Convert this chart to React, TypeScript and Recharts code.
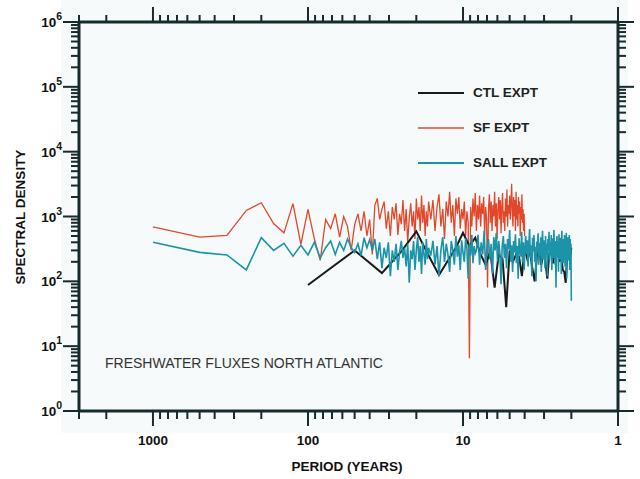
import React from 'react'
import { LineChart, Line, XAxis, YAxis, Legend } from 'recharts'

// Record lengths (years) of the three model runs
const SF_RECORD = 1000
const SALL_RECORD = 1000
const CTL_RECORD = 100

const range = (from: number, to: number, step = 1) => {
  const out: number[] = []
  for (let k = from; k <= to; k += step) out.push(k)
  return out
}

// Harmonic numbers kept for each spectrum (thinned at high frequency)
const SF_HARMONICS = [...range(1, 60), ...range(62, 250, 2)]
const SALL_HARMONICS = [...range(1, 60), ...range(62, 120, 2), ...range(122, 500, 3)]
const CTL_HARMONICS = range(1, 50)

// Spectral density at each harmonic
const SF_DENSITY = [
  690, 480, 510, 1240, 1630, 780, 560, 1580, 370, 1290,
  450, 210, 900, 650, 1100, 480, 1000, 700, 300, 750,
  1100, 600, 1200, 500, 900, 260, 1500, 1900, 900, 1300,
  1700, 650, 1200, 500, 1400, 900, 1600, 520, 1100, 760,
  1800, 600, 1300, 400, 950, 1600, 700, 1200, 450, 1900,
  900, 1400, 600, 2100, 800, 1500, 500, 1200, 700, 1700,
  // harmonics 62..250, every second one
  900, 1800, 600, 1400, 2200, 700, 1300, 450, 1700, 1000,
  2400, 800, 1500, 500, 1900, 1100, 2000, 650, 1300, 900,
  1700, 500, 1200, 800, 6.5, 1400, 700, 1900, 1000, 2300,
  600, 1500, 900, 2100, 700, 1600, 1100, 2000, 500, 1400,
  900, 80, 1300, 2200, 800, 1700, 600, 1500, 1000, 2400,
  700, 1600, 450, 1300, 2000, 900, 1800, 550, 1400, 2300,
  800, 1200, 600, 1900, 1000, 2600, 700, 1500, 1100, 2100,
  900, 1600, 3200, 1200, 700, 2000, 1000, 1800, 600, 2400,
  900, 1500, 700, 2000, 1100, 1700, 500, 1400, 900, 2200,
  800, 1300, 600, 1100, 500,
]

const SALL_DENSITY = [
  400, 280, 255, 150, 470, 300, 385, 245, 360, 255,
  400, 230, 330, 420, 260, 400, 300, 450, 330, 280,
  380, 250, 470, 330, 440, 300, 450, 220, 400, 160,
  330, 230, 400, 120, 300, 200, 380, 150, 280, 420,
  230, 330, 170, 380, 95, 300, 220, 420, 150, 300,
  480, 200, 350, 130, 400, 260, 180, 450, 220, 330,
  // harmonics 62..120, every second one
  250, 420, 180, 350, 120, 300, 480, 200, 380, 260,
  140, 420, 300, 180, 500, 240, 360, 150, 430, 280,
  200, 460, 320, 110, 380, 250, 520, 190, 350, 270,
  // harmonics 122..500, every third one
  300, 520, 180, 400, 260, 600, 150, 350, 450, 220,
  380, 130, 480, 300, 560, 200, 420, 270, 90, 340,
  500, 230, 380, 160, 450, 310, 620, 200, 360, 140,
  420, 280, 530, 190, 350, 110, 460, 300, 240, 580,
  200, 400, 150, 330, 500, 260, 430, 170, 380, 640,
  230, 360, 120, 470, 290, 520, 200, 340, 100, 410,
  280, 550, 180, 390, 250, 480, 140, 360, 600, 220,
  430, 300, 160, 500, 260, 380, 120, 450, 330, 580,
  210, 400, 270, 520, 150, 350, 460, 230, 620, 300,
  180, 420, 80, 360, 500, 250, 400, 140, 530, 300,
  220, 470, 350, 130, 600, 260, 380, 190, 450, 290,
  520, 170, 400, 250, 560, 110, 360, 480, 210, 400,
  300, 520, 150, 450, 250, 380, 50,
]

const CTL_DENSITY = [
  88, 300, 134, 290, 590, 250, 125, 210, 330, 560,
  350, 470, 260, 180, 290, 80, 260, 220, 40, 300,
  200, 260, 240, 120, 330, 220, 300, 160, 100, 250,
  320, 180, 280, 200, 110, 260, 300, 190, 280, 230,
  330, 200, 260, 150, 140, 95, 250, 300, 220, 330,
]

const toSpectrum = (record: number, harmonics: number[], density: number[]) =>
  harmonics.map((k, i) => ({ period: record / k, density: density[i] }))

const sfData = toSpectrum(SF_RECORD, SF_HARMONICS, SF_DENSITY)
const sallData = toSpectrum(SALL_RECORD, SALL_HARMONICS, SALL_DENSITY)
const ctlData = toSpectrum(CTL_RECORD, CTL_HARMONICS, CTL_DENSITY)

// Axis ticks: every integer multiple inside each decade
const MULTIPLES = [1, 2, 3, 4, 5, 6, 7, 8, 9]
const PERIOD_DECADES = [1, 10, 100, 1000]
const DENSITY_DECADES = [1, 10, 100, 1000, 10000, 100000]
const PERIOD_TICKS = PERIOD_DECADES.flatMap((d) => MULTIPLES.map((m) => m * d)).filter((v) => v <= 3000)
const DENSITY_TICKS = [...DENSITY_DECADES.flatMap((d) => MULTIPLES.map((m) => m * d)), 1000000]

const LEGEND_ORDER = ['CTL EXPT', 'SF EXPT', 'SALL EXPT']

const AXIS = '#172a2c'
const FONT = '"Liberation Sans", Arial, Helvetica, sans-serif'
const boldText = { fontFamily: FONT, fontSize: 13.5, fontWeight: 700, fill: '#111' }

const isDecade = (v: number) => Math.abs(Math.log10(v) - Math.round(Math.log10(v))) < 1e-9

const BottomTick = ({ x, y, payload }: any) => {
  const major = isDecade(payload.value)
  return (
    <g>
      <line x1={x} y1={y} x2={x} y2={y + (major ? 15 : 8)} stroke={AXIS} strokeWidth={2} />
      {major && (
        <text x={x} y={y + 34} textAnchor="middle" style={boldText}>
          {payload.value}
        </text>
      )}
    </g>
  )
}

const TopTick = ({ x, y, payload }: any) => {
  const major = isDecade(payload.value)
  return <line x1={x} y1={y} x2={x} y2={y - (major ? 15 : 7)} stroke={AXIS} strokeWidth={2} />
}

const LeftTick = ({ x, y, payload }: any) => {
  const major = isDecade(payload.value)
  return (
    <g>
      <line x1={x} y1={y} x2={x - (major ? 16 : 8)} y2={y} stroke={AXIS} strokeWidth={2} />
      {major && (
        <text x={x - 17} y={y + 5} textAnchor="end" style={boldText}>
          10
          <tspan dy={-7} fontSize={10.5}>
            {Math.round(Math.log10(payload.value))}
          </tspan>
        </text>
      )}
    </g>
  )
}

const RightTick = ({ x, y, payload }: any) => {
  const major = isDecade(payload.value)
  return <line x1={x} y1={y} x2={x + (major ? 16 : 8)} y2={y} stroke={AXIS} strokeWidth={2} />
}

const SeriesLegend = ({ payload }: any) => {
  const items = [...(payload || [])].sort(
    (a: any, b: any) => LEGEND_ORDER.indexOf(a.value) - LEGEND_ORDER.indexOf(b.value),
  )
  return (
    <div style={{ display: 'flex', flexDirection: 'column' }}>
      {items.map((entry: any) => (
        <div key={entry.value} style={{ display: 'flex', alignItems: 'center', height: 35 }}>
          <svg width={46} height={4} style={{ display: 'block' }}>
            <line x1={0} y1={2} x2={46} y2={2} stroke={entry.color} strokeWidth={entry.value === 'SF EXPT' ? 1.4 : 2} />
          </svg>
          <span style={{ marginLeft: 9, fontFamily: FONT, fontSize: 13.5, fontWeight: 700, color: '#222' }}>
            {entry.value}
          </span>
        </div>
      ))}
    </div>
  )
}

const App: React.FC = () => {
  return (
    <div style={{ position: 'absolute', left: 0, top: 0, width: 640, height: 479, background: '#fff' }}>
      {/* faint paper tint behind the plot */}
      <div style={{ position: 'absolute', left: 61, top: 0, width: 567, height: 433, background: '#f6fafa' }} />
      <LineChart
        width={640}
        height={479}
        margin={{ top: 21, right: 21, bottom: 67, left: 78 }}
        style={{ position: 'absolute', left: 0, top: 0 }}
      >
        <XAxis
          xAxisId={0}
          dataKey="period"
          type="number"
          scale="log"
          domain={[1, 3000]}
          reversed
          ticks={PERIOD_TICKS}
          interval={0}
          height={1}
          tickSize={0}
          tickMargin={0}
          tick={<BottomTick />}
          axisLine={{ stroke: AXIS, strokeWidth: 3 }}
          allowDataOverflow
        />
        <XAxis
          xAxisId="top"
          orientation="top"
          dataKey="period"
          type="number"
          scale="log"
          domain={[1, 3000]}
          reversed
          ticks={PERIOD_TICKS}
          interval={0}
          height={1}
          tickSize={0}
          tickMargin={0}
          tick={<TopTick />}
          axisLine={{ stroke: AXIS, strokeWidth: 3 }}
          allowDataOverflow
        />
        <YAxis
          yAxisId={0}
          type="number"
          scale="log"
          domain={[1, 1000000]}
          ticks={DENSITY_TICKS}
          interval={0}
          width={1}
          tickSize={0}
          tickMargin={0}
          tick={<LeftTick />}
          axisLine={{ stroke: AXIS, strokeWidth: 3 }}
          allowDataOverflow
        />
        <YAxis
          yAxisId="right"
          orientation="right"
          type="number"
          scale="log"
          domain={[1, 1000000]}
          ticks={DENSITY_TICKS}
          interval={0}
          width={1}
          tickSize={0}
          tickMargin={0}
          tick={<RightTick />}
          axisLine={{ stroke: AXIS, strokeWidth: 3 }}
          allowDataOverflow
        />
        <Line
          data={sfData}
          dataKey="density"
          name="SF EXPT"
          stroke="#e2472a"
          strokeWidth={1.3}
          dot={false}
          isAnimationActive={false}
        />
        <Line
          data={ctlData}
          dataKey="density"
          name="CTL EXPT"
          stroke="#1a1a1a"
          strokeWidth={2}
          dot={false}
          isAnimationActive={false}
        />
        <Line
          data={sallData}
          dataKey="density"
          name="SALL EXPT"
          stroke="#1c93a8"
          strokeWidth={1.6}
          dot={false}
          isAnimationActive={false}
        />
        <Legend
          layout="vertical"
          align="center"
          verticalAlign="middle"
          content={<SeriesLegend />}
          wrapperStyle={{ left: 418, top: 75, width: 160 }}
        />
        <text x={105} y={368} style={{ fontFamily: FONT, fontSize: 14, fill: '#333' }}>
          FRESHWATER FLUXES NORTH ATLANTIC
        </text>
        <text x={347} y={471} textAnchor="middle" style={boldText}>
          PERIOD (YEARS)
        </text>
        <text x={25} y={217} textAnchor="middle" transform="rotate(-90 25 217)" style={boldText}>
          SPECTRAL DENSITY
        </text>
      </LineChart>
    </div>
  )
}

export default App
